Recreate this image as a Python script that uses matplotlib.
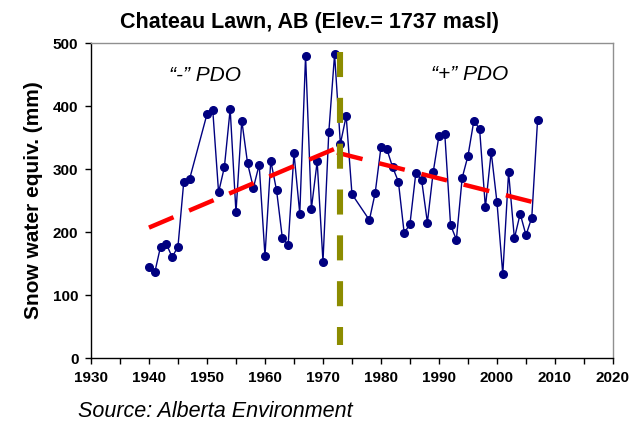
import matplotlib
matplotlib.use("Agg")
import matplotlib.pyplot as plt
from matplotlib.ticker import MultipleLocator

plt.rcParams['font.family'] = ['Liberation Sans', 'DejaVu Sans']

# Snow course record (April 1 snow water equivalent, mm)
years = [1940, 1941, 1942, 1943, 1944, 1945, 1946, 1947, 1950, 1951,
         1952, 1953, 1954, 1955, 1956, 1957, 1958, 1959, 1960, 1961,
         1962, 1963, 1964, 1965, 1966, 1967, 1968, 1969, 1970, 1971,
         1972, 1973, 1974, 1975, 1978, 1979, 1980, 1981, 1982, 1983,
         1984, 1985, 1986, 1987, 1988, 1989, 1990, 1991, 1992, 1993,
         1994, 1995, 1996, 1997, 1998, 1999, 2000, 2001, 2002, 2003,
         2004, 2005, 2006, 2007]
swe = [145, 136, 177, 181, 160, 177, 280, 284, 387, 393,
       263, 303, 395, 231, 377, 309, 270, 307, 162, 313,
       266, 190, 180, 325, 229, 480, 237, 312, 153, 358,
       482, 340, 384, 260, 219, 262, 335, 332, 303, 280,
       198, 213, 293, 283, 215, 295, 353, 356, 211, 188,
       286, 321, 376, 364, 239, 327, 247, 133, 295, 190,
       229, 195, 223, 378]

# Linear trends for the negative and positive PDO phases
trend_neg_years = [1940, 1972]
trend_neg_vals = [207, 332]
trend_pos_years = [1972.4, 2006]
trend_pos_vals = [326, 248]

# PDO regime shift (drawn top to bottom)
shift_year = 1973
shift_range = [486, 20]

fig = plt.figure(figsize=(6.3, 4.26), dpi=100)
ax = fig.add_axes([0.1444, 0.1596, 0.8286, 0.7394])

ax.plot(years, swe, color='#000080', lw=1.0, marker='o', ms=5.5,
        markerfacecolor='#000080', markeredgecolor='#000080', zorder=3)
ax.plot(trend_neg_years, trend_neg_vals, color='#ff0000', lw=3.2,
        dashes=(6.0, 3.8), dash_capstyle='butt', zorder=4)
ax.plot(trend_pos_years, trend_pos_vals, color='#ff0000', lw=3.2,
        dashes=(5.95, 3.85), dash_capstyle='butt', zorder=4)
ax.plot([shift_year, shift_year], shift_range, color='#8c8c00', lw=4.4,
        dashes=(4.1, 3.4), dash_capstyle='butt', zorder=5)

ax.set_xlim(1930, 2020)
ax.set_ylim(0, 500)
ax.xaxis.set_major_locator(MultipleLocator(10))
ax.xaxis.set_minor_locator(MultipleLocator(5))
ax.yaxis.set_major_locator(MultipleLocator(100))
ax.tick_params(axis='both', which='both', direction='out', length=4,
               width=1, labelsize=11, pad=5)
for lab in ax.get_xticklabels() + ax.get_yticklabels():
    lab.set_fontweight('bold')

for side in ('left', 'bottom'):
    ax.spines[side].set_color('black')
    ax.spines[side].set_linewidth(1)
for side in ('top', 'right'):
    ax.spines[side].set_color('#909090')
    ax.spines[side].set_linewidth(1)

ax.set_ylabel('Snow water equiv. (mm)', fontsize=15, fontweight='bold', labelpad=7)
ax.text(1949.7, 449, '\u201c-\u201d PDO', fontsize=15, style='italic', ha='center', va='center')
ax.text(1995.3, 450, '\u201c+\u201d PDO', fontsize=15, style='italic', ha='center', va='center')

fig.text(0.492, 0.948, 'Chateau Lawn, AB (Elev.= 1737 masl)', fontsize=15.5,
         fontweight='bold', ha='center', va='center')
fig.text(0.124, 0.035, 'Source: Alberta Environment', fontsize=15.5, style='italic',
         ha='left', va='center')

fig.savefig('out.png', dpi=100)
